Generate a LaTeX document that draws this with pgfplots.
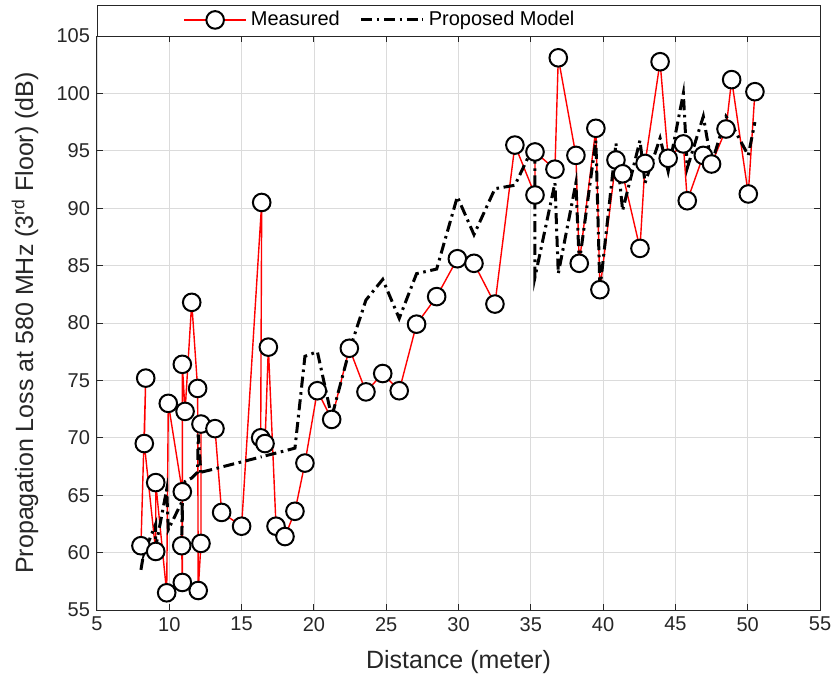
\documentclass[border=0pt]{standalone}
\usepackage{fontspec}
\setmainfont{Liberation Sans}
\usepackage{pgfplots}
\pgfplotsset{compat=1.18}
\begin{document}
\begin{tikzpicture}
\useasboundingbox (-48.5pt,-37.5pt) rectangle (370.5pt,305pt);
\begin{axis}[
 name=ax,
 at={(0,0)}, anchor=south west,
 scale only axis, width=361.5pt, height=287pt,
 xmin=5, xmax=55, ymin=55, ymax=105,
 xtick={5,10,...,55}, ytick={55,60,...,105},
 grid=major, major grid style={black!14, line width=0.4pt},
 tick align=inside, major tick length=3pt,
 axis line style={black!85, line width=0.5pt},
 tick style={black!85, line width=0.5pt},
 ticklabel style={font=\fontsize{10}{12}\selectfont, text=black!85},
 /pgf/number format/assume math mode=true,
 xlabel={Distance (meter)},
 ylabel={Propagation Loss at 580 MHz (3\textsuperscript{rd} Floor) (dB)},
 label style={font=\fontsize{12.5}{15}\selectfont, text=black!85},
 xlabel style={at={(axis description cs:0.5,-0.0906)}, anchor=center},
 ylabel style={at={(axis description cs:-0.0996,0.5)}, anchor=center},
 legend columns=-1,
 legend style={at={(axis description cs:0.119,1.028)}, anchor=west, draw=none, fill=none,
   font=\fontsize{10}{12}\selectfont, inner sep=0pt,
   /tikz/every even column/.append style={column sep=8pt}},
 legend image code/.code={\draw[mark repeat=2,mark phase=2] plot coordinates {(0pt,0pt)(15.5pt,0pt)(31pt,0pt)};},
]
\addplot[red, line width=0.7pt, mark=*, mark size=4.4pt, mark options={fill=white, draw=black, line width=1pt, solid}] coordinates {
(8.04,60.6) (8.37,75.2) (8.27,69.5) (9.06,60.1) (9.06,66.1) (9.82,56.5) (9.93,73.0)
(10.9,65.3) (10.86,60.6) (10.9,57.4) (10.9,76.4) (11.09,72.3) (11.55,81.8) (11.96,74.3)
(12.0,56.7) (12.19,60.8) (12.19,71.2) (13.16,70.8) (13.62,63.5) (15.0,62.3) (16.39,90.5)
(16.32,70.0) (16.62,69.5) (16.85,77.9) (17.38,62.3) (18.0,61.4) (18.69,63.6) (19.38,67.8)
(20.24,74.1) (21.23,71.6) (22.45,77.8) (23.6,74.0) (24.76,75.6) (25.9,74.1) (27.1,79.9)
(28.49,82.3) (29.92,85.6) (31.07,85.2) (32.52,81.65) (33.9,95.5) (35.29,91.15) (35.29,94.9)
(36.67,93.4) (36.9,103.1) (38.12,94.6) (38.35,85.2) (39.5,96.96) (39.78,82.9) (40.89,94.2)
(41.35,93.0) (42.55,86.5) (42.9,93.9) (43.94,102.76) (44.5,94.35) (45.55,95.6) (45.82,90.65)
(46.93,94.6) (47.5,93.85) (48.5,96.9) (48.89,101.2) (50.04,91.24) (50.5,100.15)
};
\addlegendentry{Measured}
\addplot[black, line width=1.5pt, dash pattern=on 5.5pt off 2.3pt on 1.3pt off 2.3pt] coordinates {
(8.04,58.5) (8.37,61.0) (8.27,60.0) (9.06,62.5) (9.06,60.5) (9.82,65.5) (9.93,62.0)
(10.9,64.5) (10.86,61.5) (10.9,63.0) (10.9,65.0) (11.09,66.2) (11.55,66.5) (11.96,67.0)
(12.0,70.3) (12.19,66.8) (12.19,67.0) (13.16,67.3) (13.62,67.46) (15.0,67.9) (16.39,68.35)
(16.32,68.33) (16.62,68.43) (16.85,68.5) (17.38,68.67) (18.0,68.87) (18.69,69.1) (19.38,77.1)
(20.24,77.5) (21.23,71.8) (22.45,77.6) (23.6,82.0) (24.76,83.8) (25.9,80.4) (27.1,84.3)
(28.49,84.7) (29.92,91.0) (31.07,87.7) (32.52,91.7) (33.9,92.0) (35.29,95.7) (35.29,84.0)
(36.67,92.2) (36.9,84.3) (38.12,92.2) (38.35,85.2) (39.5,95.9) (39.78,82.9) (40.89,95.65)
(41.35,89.8) (42.55,95.9) (42.9,92.2) (43.94,96.1) (44.5,93.2) (45.55,100.0) (45.82,93.5)
(46.93,98.0) (47.5,93.85) (48.5,98.0) (48.89,97.3) (50.04,94.6) (50.5,97.5)
};
\addlegendentry{Proposed Model}
\end{axis}
\draw[black!85, line width=0.5pt] (ax.north west) rectangle ([yshift=15.5pt]ax.north east);
\end{tikzpicture}
\end{document}
